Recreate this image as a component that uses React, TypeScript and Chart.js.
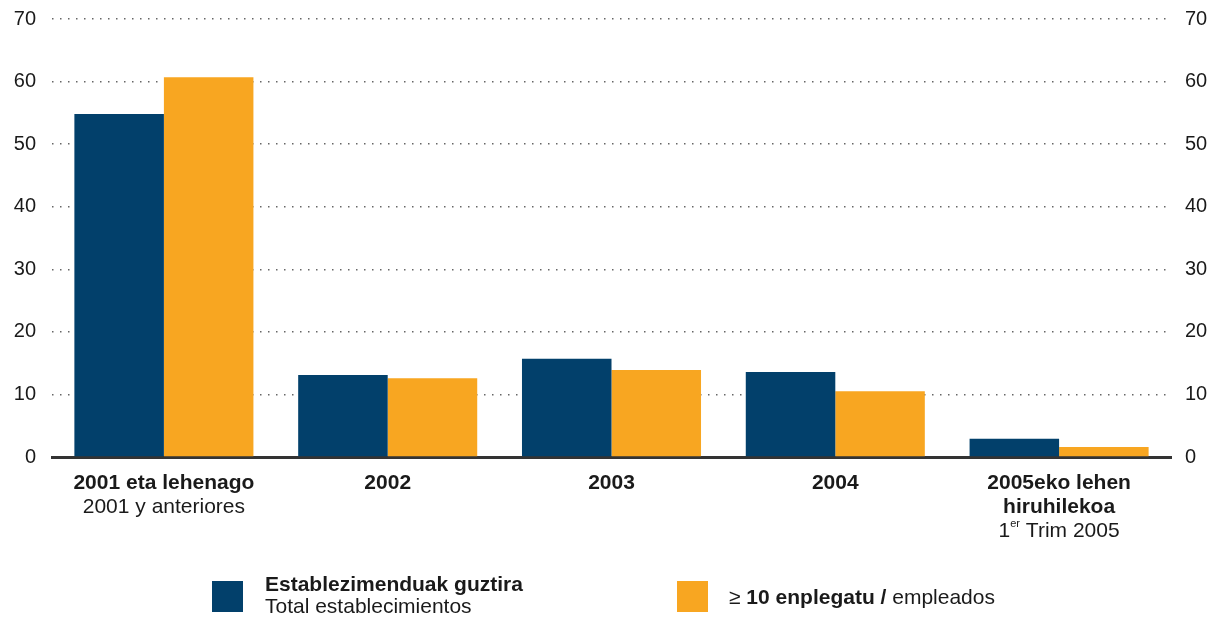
import React, { useEffect, useRef } from "react";
import { Chart, registerables } from "chart.js";

Chart.register(...registerables);

const categories = ["2001 eta lehenago", "2002", "2003", "2004", "2005eko lehen hiruhilekoa"];
const boldLines = [["2001 eta lehenago"], ["2002"], ["2003"], ["2004"], ["2005eko lehen", "hiruhilekoa"]];
const normalLines = ["2001 y anteriores", "", "", "", "1^er Trim 2005"];
const totalValues = [54.8, 13.1, 15.7, 13.6, 2.9];
const tenPlusValues = [60.7, 12.6, 13.9, 10.5, 1.6];
const yTicks = { min: 0, max: 70, step: 10 };
const seriesNames = ["Establezimenduak guztira", "≥ 10 enplegatu / empleados"];
const legendSubtitle = "Total establecimientos";

const NAVY = "#02406B";
const ORANGE = "#F8A621";
const FONT = "'Liberation Sans', Arial, Helvetica, sans-serif";
const TEXT = "#1a1a1a";
const FS = 21;

const labelsPlugin = {
  id: "customLabels",
  afterDraw(chart: any) {
    const ctx = chart.ctx as CanvasRenderingContext2D;
    const xs = chart.scales.x;
    ctx.save();
    ctx.fillStyle = TEXT;
    ctx.textBaseline = "middle";
    ctx.textAlign = "center";
    const base = chart.chartArea.bottom + 26;
    const lh = 24;
    categories.forEach((_, i) => {
      const x = xs.getPixelForValue(i);
      let y = base;
      ctx.font = `bold ${FS}px ${FONT}`;
      for (const l of boldLines[i]) {
        ctx.fillText(l, x, y);
        y += lh;
      }
      const n = normalLines[i];
      if (n) {
        ctx.font = `${FS}px ${FONT}`;
        const m = n.match(/^(\d+)\^(\w+)(.*)$/);
        if (m) {
          const w1 = ctx.measureText(m[1]).width;
          const w3 = ctx.measureText(m[3]).width;
          ctx.font = `11px ${FONT}`;
          const w2 = ctx.measureText(m[2]).width;
          const total = w1 + w2 + w3;
          let sx = x - total / 2;
          ctx.textAlign = "left";
          ctx.font = `${FS}px ${FONT}`;
          ctx.fillText(m[1], sx, y);
          sx += w1;
          ctx.font = `11px ${FONT}`;
          ctx.fillText(m[2], sx, y - 7);
          sx += w2;
          ctx.font = `${FS}px ${FONT}`;
          ctx.fillText(m[3], sx, y);
          ctx.textAlign = "center";
        } else {
          ctx.fillText(n, x, y);
        }
      }
    });

    // legend
    const ds = chart.data.datasets;
    ctx.textAlign = "left";
    ctx.fillStyle = ds[0].backgroundColor;
    ctx.fillRect(212, 581, 31, 31);
    ctx.fillStyle = TEXT;
    ctx.font = `bold ${FS}px ${FONT}`;
    ctx.fillText(seriesNames[0], 265, 585);
    ctx.font = `${FS}px ${FONT}`;
    ctx.fillText(legendSubtitle, 265, 607);

    ctx.fillStyle = ds[1].backgroundColor;
    ctx.fillRect(677, 581, 31, 31);
    ctx.fillStyle = TEXT;
    const parts: [string, boolean][] = [["≥ ", false], ["10 enplegatu /", true], [" empleados", false]];
    let sx = 729;
    for (const [t, b] of parts) {
      ctx.font = `${b ? "bold " : ""}${FS}px ${FONT}`;
      ctx.fillText(t, sx, 598);
      sx += ctx.measureText(t).width;
    }
    ctx.restore();
  },
};

export default function App() {
  const ref = useRef<HTMLCanvasElement | null>(null);
  useEffect(() => {
    if (!ref.current) return;
    const tickFont = { family: FONT, size: 20 };
    const chart = new Chart(ref.current, {
      type: "bar",
      data: {
        labels: categories,
        datasets: [
          { label: seriesNames[0], data: totalValues, backgroundColor: NAVY, yAxisID: "y", barPercentage: 1, categoryPercentage: 0.8 },
          { label: seriesNames[1], data: tenPlusValues, backgroundColor: ORANGE, yAxisID: "y", barPercentage: 1, categoryPercentage: 0.8 },
        ],
      },
      options: {
        responsive: false,
        animation: false,
        layout: { padding: { top: 19, left: 0, right: 0, bottom: 0 } },
        plugins: { legend: { display: false }, tooltip: { enabled: false } },
        scales: {
          x: {
            grid: { display: false },
            border: { display: true, color: "#333", width: 3 },
            ticks: { display: false },
            afterFit: (s: any) => { s.height = 162; s.paddingLeft = 0; s.paddingRight = 0; },
          },
          y: {
            position: "left",
            min: yTicks.min,
            max: yTicks.max,
            ticks: { stepSize: yTicks.step, font: tickFont, color: TEXT, padding: 16 },
            grid: {
              drawTicks: false,
              color: (c: any) => (c.tick && c.tick.value === 0 ? "rgba(0,0,0,0)" : "#666"),
              lineWidth: 1.5,
            },
            border: { display: false, dash: [1.5, 6.5] },
            afterFit: (s: any) => { s.width = 52; s.paddingTop = 0; s.paddingBottom = 0; },
          },
          y1: {
            position: "right",
            min: yTicks.min,
            max: yTicks.max,
            ticks: { stepSize: yTicks.step, font: tickFont, color: TEXT, padding: 14 },
            grid: { display: false, drawTicks: false },
            border: { display: false },
            afterFit: (s: any) => { s.width = 49; s.paddingTop = 0; s.paddingBottom = 0; },
          },
        },
      },
      plugins: [labelsPlugin],
    } as any);
    return () => chart.destroy();
  }, []);
  return (
    <div style={{ position: "absolute", left: 0, top: 0, width: 1220, height: 619, background: "#fff" }}>
      <canvas ref={ref} width={1220} height={619} style={{ display: "block" }} />
    </div>
  );
}
